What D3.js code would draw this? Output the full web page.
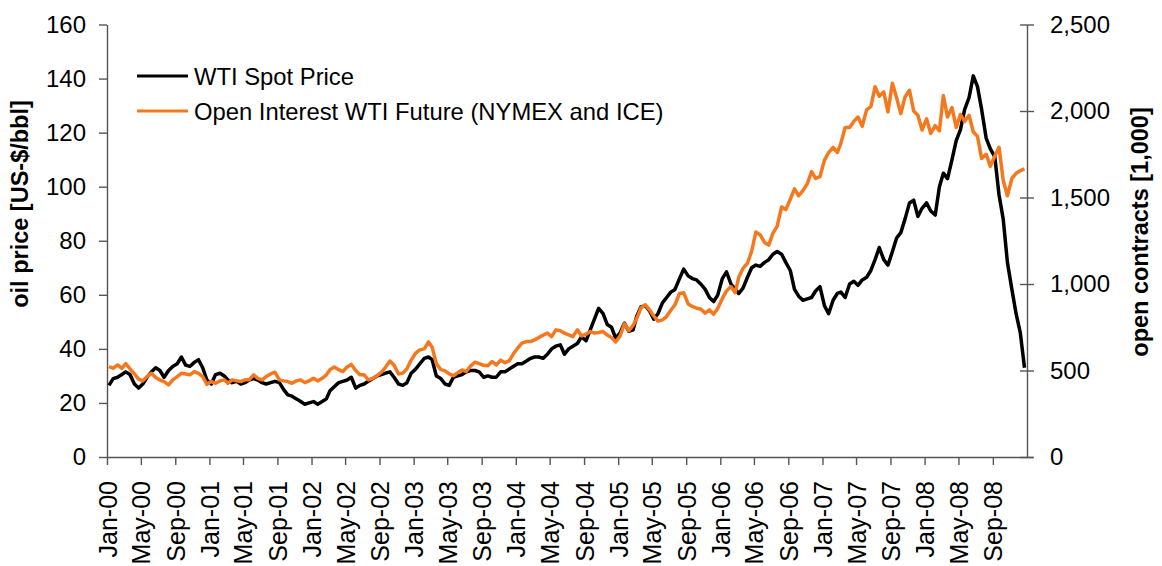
<!DOCTYPE html>
<html>
<head>
<meta charset="utf-8">
<script src="https://cdn.jsdelivr.net/npm/d3@7"></script>
<style>
html,body{margin:0;padding:0;background:#fff;}
text{font-family:"Liberation Sans",Arial,Helvetica,sans-serif;fill:#000;}
</style>
</head>
<body>
<svg id="chart" width="1162" height="566"></svg>
<script>
// ---- data (semi-monthly readings, 8th and 23rd of each month) ----
const years = [2000, 2001, 2002, 2003, 2004, 2005, 2006, 2007, 2008];

const spotPrice = [
  26.5,29,29.5,30.5,31.5,30.5,27,25.5,27,29.5,31.5,33,32,29.5,32,33.5,34.5,37,34,33.5,35,36,33,28.5,
  27,30.5,31,30,28.5,27.5,28,27,27.5,28.5,29,28.5,27.5,27,27.5,28,27.5,25,23,22.5,21.5,20.5,19.5,20,
  20.5,19.5,20.5,21.5,24.5,26,27.5,28,28.5,29.5,25.5,26.5,27,28,29,30,30.5,31,31.5,29.5,27,26.5,27.5,31,
  32.5,34.5,36.5,37,36,30,29,27,26.5,29.5,30,30.5,31.5,32,32,31.5,29.5,30,29.5,29.5,31.5,31.5,32.5,33.5,
  34.5,34.5,35.5,36.5,37,37,36.5,38,40,41,41.5,38,40,41,42,44.5,43,47,51,55,53,49,48,44,
  46,49.5,46.5,47,52,55.5,56,54,51,53,57,59,61,62,66,69.5,67,66,65.5,64,62,59,57.5,60,
  66,68.5,64,62,60.5,62.5,66.5,70,71,70.5,72,73,75,76,75,72,69,62,59.5,58,58.5,59,61.5,63,
  56,53,58,60.5,61,59,64,65,63.5,65.5,66.5,69,73,77.5,73,71,76,81,83,88,94,95,89,92,
  94,91,89.5,100,105,103,110,117,121,128.5,133,141,137,128.5,118,114,111,97,88,72,62,53,46,33
];

const openInterest = [
  523,513,532,513,540,510,480,450,440,465,484,460,445,436,417,446,465,484,480,475,494,484,465,420,
  436,426,440,446,426,446,440,436,446,446,475,455,446,465,480,490,446,440,436,426,440,446,430,440,
  455,440,455,475,505,520,505,494,520,535,500,475,475,446,455,470,490,520,555,530,480,485,510,560,
  600,619,625,665,635,540,505,498,480,470,488,503,494,525,548,540,530,528,552,532,560,545,555,595,
  630,658,667,667,677,690,705,716,696,735,730,716,706,696,735,700,710,725,716,720,725,705,690,665,
  700,770,730,760,800,862,880,851,815,785,793,812,848,880,945,950,885,870,860,855,831,850,825,860,
  915,960,985,950,1040,1090,1120,1190,1300,1285,1240,1225,1294,1333,1445,1430,1490,1550,1510,1540,1580,1650,1610,1620,
  1715,1760,1790,1760,1815,1905,1905,1940,1965,1911,2008,2025,2140,2085,2110,1995,2160,2076,1985,2080,2120,2000,1975,1890,
  1955,1870,1915,1885,2090,1965,2020,1905,1980,1940,1975,1880,1853,1725,1750,1680,1740,1790,1600,1510,1610,1640,1655,1665
];

const leftTicks = [0, 20, 40, 60, 80, 100, 120, 140, 160];
const rightTicks = [0, 500, 1000, 1500, 2000, 2500];
const seriesNames = ["WTI Spot Price", "Open Interest WTI Future (NYMEX and ICE)"];
const seriesColors = ["#000000", "#f5781e"];
const axisTitles = ["oil price [US-$/bbl]", "open contracts [1,000]"];

// dates for each reading
const dates = [];
years.forEach(y => { for (let m = 0; m < 12; m++) { dates.push(new Date(y, m, 8)); dates.push(new Date(y, m, 23)); } });

const svg = d3.select("#chart");
svg.append("rect").attr("width", 1162).attr("height", 566).attr("fill", "#fff");

const L = 107, R = 1027, T = 24.5, B = 457;
const x = d3.scaleTime().domain([new Date(2000, 0, 1), new Date(2009, 0, 1)]).range([L, R]);
const yL = d3.scaleLinear().domain([0, 160]).range([B, T]);
const yR = d3.scaleLinear().domain([0, 2500]).range([B, T]);
const axisColor = "#555";

// left axis
const gL = svg.append("g").attr("transform", `translate(${L},0)`)
  .call(d3.axisLeft(yL).tickValues(leftTicks).tickSize(8).tickSizeOuter(0).tickPadding(13));
gL.selectAll("text").style("font-size", "24px");

// right axis
const gR = svg.append("g").attr("transform", `translate(${R},0)`)
  .call(d3.axisRight(yR).tickValues(rightTicks).tickFormat(d3.format(",")).tickSize(7).tickSizeOuter(0).tickPadding(16));
gR.selectAll(".tick line").attr("x1", -7).attr("x2", 7);
gR.selectAll("text").style("font-size", "24px");

// bottom axis (ticks every 4 months, Jan-00 .. Sep-08)
const monthTicks = d3.timeMonth.every(4).range(new Date(2000, 0, 1), new Date(2009, 0, 1));
const gB = svg.append("g").attr("transform", `translate(0,${B})`)
  .call(d3.axisBottom(x).tickValues(monthTicks).tickFormat(d3.timeFormat("%b-%y")).tickSize(8).tickSizeOuter(0));
gB.selectAll("text")
  .attr("y", 0).attr("x", -24).attr("dy", "0.36em")
  .attr("transform", "rotate(-90)")
  .style("text-anchor", "end").style("font-size", "25px");
gB.select(".domain").attr("d", `M${L},0.5H${R + 6}`);

[gL, gR, gB].forEach(g => {
  g.selectAll(".domain").attr("stroke", axisColor).attr("stroke-width", 1.4);
  g.selectAll(".tick line").attr("stroke", axisColor).attr("stroke-width", 1.4);
  g.selectAll("text").attr("fill", "#000");
});

// axis titles
svg.append("text").attr("transform", "translate(28,204) rotate(-90)")
  .attr("text-anchor", "middle").style("font-size", "23.5px").style("font-weight", "bold")
  .text(axisTitles[0]);
svg.append("text").attr("transform", "translate(1148,232) rotate(-90)")
  .attr("text-anchor", "middle").style("font-size", "23.5px").style("font-weight", "bold")
  .text(axisTitles[1]);

// lines
const spotLine = d3.line().x((d, i) => x(dates[i])).y(d => yL(d));
const oiLine = d3.line().x((d, i) => x(dates[i])).y(d => yR(d));

svg.append("path").datum(spotPrice).attr("d", spotLine)
  .attr("fill", "none").attr("stroke", seriesColors[0]).attr("stroke-width", 3.5)
  .attr("stroke-linejoin", "round");
svg.append("path").datum(openInterest).attr("d", oiLine)
  .attr("fill", "none").attr("stroke", seriesColors[1]).attr("stroke-width", 3.5)
  .attr("stroke-linejoin", "round");

// legend
const legY = [76, 111];
seriesNames.forEach((name, i) => {
  svg.append("line").attr("x1", 137).attr("x2", 188).attr("y1", legY[i]).attr("y2", legY[i])
    .attr("stroke", seriesColors[i]).attr("stroke-width", 3);
  svg.append("text").attr("x", 194).attr("y", legY[i] + 9)
    .style("font-size", "23.8px").text(name);
});
</script>
</body>
</html>
